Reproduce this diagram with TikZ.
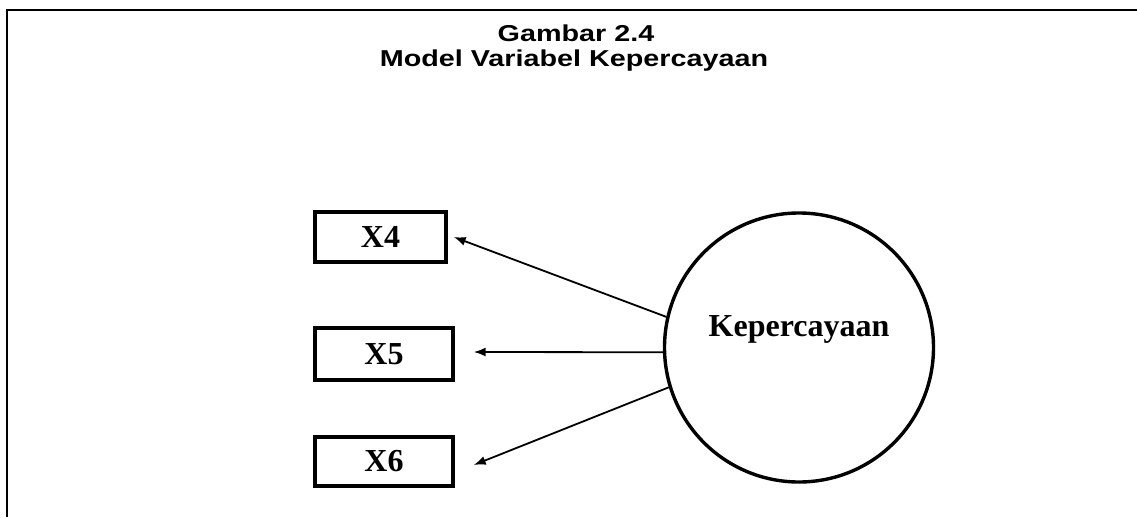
\documentclass[tikz,border=0pt]{standalone}
\usepackage{fontspec}
\setmainfont{Liberation Serif}
\newfontfamily\titlefont[FakeStretch=1.25]{Liberation Sans}
\usetikzlibrary{arrows.meta}
\begin{document}
\begin{tikzpicture}[x=1pt,y=-1pt,
  frameline/.style={line width=1.8pt},
  indicator/.style={draw,line width=3.4pt,inner sep=0pt,
    font=\fontsize{32}{38}\selectfont\bfseries},
  latent/.style={draw,circle,line width=3.4pt,inner sep=0pt,minimum size=269pt},
  latentlabel/.style={font=\fontsize{32}{38}\selectfont\bfseries,inner sep=0pt},
  titletext/.style={font=\titlefont\bfseries\fontsize{23}{26}\selectfont,inner sep=0pt,anchor=base},
  loading/.style={line width=1.8pt,-{Latex[length=12pt,width=9pt]}}]
\useasboundingbox (0,0) rectangle (1137,517);

% open frame: top and left edges only
\coordinate (frameTL) at (7,10);
\coordinate (frameTR) at (1137,10);
\coordinate (frameBL) at (7,517);
\draw[frameline] (frameTR) -- (frameTL) -- (frameBL);

% caption
\node[titletext] (title1) at (576,41) {Gambar 2.4};
\node[titletext] (title2) at (574,66) {Model Variabel Kepercayaan};

% observed indicators
\node[indicator,minimum width=131pt,minimum height=50pt] (X4) at (380.5,237) {X4};
\node[indicator,minimum width=138pt,minimum height=52pt] (X5) at (384,354) {X5};
\node[indicator,minimum width=138pt,minimum height=49pt] (X6) at (384,461.5) {X6};

% latent construct
\node[latent] (K) at (799,347.5) {};
\node[latentlabel] (Klabel) at ([yshift=18pt]K.center) {Kepercayaan};

% loadings
\draw[loading] (K.167) -- ([xshift=6pt,yshift=0pt]X4.east);
\draw[loading] (K.182) -- ([xshift=19pt,yshift=2pt]X5.east);
\draw[loading] (K.197) -- ([xshift=19pt,yshift=-3.5pt]X6.east);
\end{tikzpicture}
\end{document}
